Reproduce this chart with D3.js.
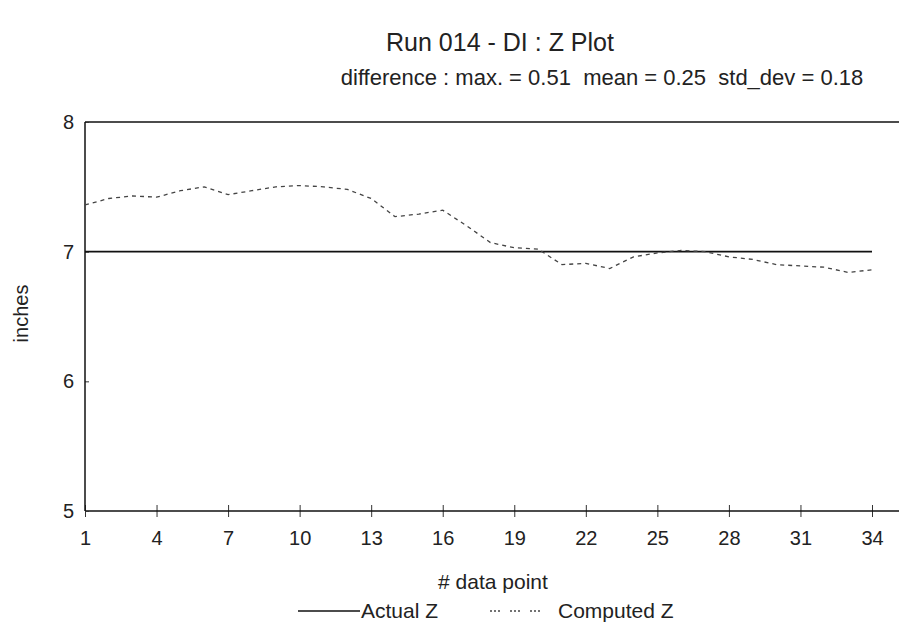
<!DOCTYPE html>
<html>
<head>
<meta charset="utf-8">
<script src="https://cdn.jsdelivr.net/npm/d3@7"></script>
<style>
  body { margin: 0; background: #fff; }
  text { font-family: 'Liberation Sans', Arial, sans-serif; fill: #222; }
</style>
</head>
<body>
<div id="chart-area"></div>
<script>
const points = d3.range(1, 35)
const actualZ = points.map(() => 7.0)
const computedZ = [7.36, 7.41, 7.43, 7.42, 7.47, 7.50, 7.44, 7.47, 7.50, 7.51,
  7.50, 7.48, 7.41, 7.27, 7.29, 7.32, 7.20, 7.07, 7.03, 7.02,
  6.90, 6.91, 6.87, 6.96, 6.99, 7.01, 7.00, 6.96, 6.94, 6.90,
  6.89, 6.88, 6.84, 6.86]
const xTicks = [1, 4, 7, 10, 13, 16, 19, 22, 25, 28, 31, 34]
const yTicks = [5, 6, 7, 8]

const margin = {top: 122, right: 0, bottom: 117, left: 85}
const width = 899 - margin.left - margin.right
const height = 628 - margin.top - margin.bottom
const font = "'Liberation Sans', Arial, sans-serif"

const svg = d3.select('#chart-area')
  .append('svg')
    .attr('width', 899)
    .attr('height', 628)

const g = svg.append('g')
  .attr('transform', `translate(${margin.left},${margin.top})`)

const x = d3.scaleLinear()
  .domain([1, 34])
  .range([0, 787])

const y = d3.scaleLinear()
  .domain([5, 8])
  .range([height, 0])

// titles
svg.append('text')
  .attr('x', 500)
  .attr('y', 51)
  .attr('font-size', '25px')
  .attr('text-anchor', 'middle')
  .text('Run 014 - DI : Z Plot')

svg.append('text')
  .attr('x', 602)
  .attr('y', 85)
  .attr('font-size', '22px')
  .attr('text-anchor', 'middle')
  .style('white-space', 'pre')
  .text('difference : max. = 0.51  mean = 0.25  std_dev = 0.18')

// top edge of the plot area
g.append('line')
  .attr('x1', 0).attr('x2', width)
  .attr('y1', 0).attr('y2', 0)
  .attr('stroke', '#111').attr('stroke-width', 1.5)

const xAxisGroup = g.append('g')
  .attr('transform', `translate(0,${height})`)
  .call(d3.axisBottom(x).tickValues(xTicks).tickSize(6).tickPadding(14))
xAxisGroup.select('.domain').remove()
xAxisGroup.append('line')
  .attr('x1', 0).attr('x2', width)
  .attr('stroke', '#111').attr('stroke-width', 1.5)
xAxisGroup.selectAll('.tick line').attr('y1', -6).attr('stroke', '#333')
xAxisGroup.selectAll('.tick text')
  .attr('font-size', '20px')
  .attr('fill', '#222')
  .attr('font-family', font)

const yAxisGroup = g.append('g')
  .call(d3.axisLeft(y).tickValues(yTicks).tickFormat(d3.format('d')).tickSize(5).tickPadding(6))
yAxisGroup.select('.domain').remove()
yAxisGroup.append('line')
  .attr('y1', 0).attr('y2', height)
  .attr('stroke', '#111').attr('stroke-width', 1.5)
yAxisGroup.selectAll('.tick line').attr('x2', 4).attr('stroke', '#333')
yAxisGroup.selectAll('.tick text')
  .attr('font-size', '20px')
  .attr('fill', '#222')
  .attr('font-family', font)

// axis labels
g.append('text')
  .attr('x', 408)
  .attr('y', height + 78)
  .attr('font-size', '21px')
  .attr('text-anchor', 'middle')
  .text('# data point')

g.append('text')
  .attr('x', -(height / 2) + 3)
  .attr('y', -57)
  .attr('font-size', '20px')
  .attr('text-anchor', 'middle')
  .attr('transform', 'rotate(-90)')
  .text('inches')

// series
const line = d3.line()
  .x((d, i) => x(points[i]))
  .y(d => y(d))

g.append('path')
  .datum(actualZ)
  .attr('fill', 'none')
  .attr('stroke', '#111')
  .attr('stroke-width', 1.6)
  .attr('d', line)

g.append('path')
  .datum(computedZ)
  .attr('fill', 'none')
  .attr('stroke', '#444')
  .attr('stroke-width', 1.3)
  .attr('stroke-dasharray', '4,4')
  .attr('d', line)

// legend
const legend = svg.append('g')
  .attr('transform', 'translate(0,611)')

legend.append('line')
  .attr('x1', 298).attr('x2', 360)
  .attr('stroke', '#111').attr('stroke-width', 1.5)
legend.append('text')
  .attr('x', 361).attr('y', 7)
  .attr('font-size', '21px')
  .text('Actual Z')

legend.append('line')
  .attr('x1', 490).attr('x2', 548)
  .attr('stroke', '#444').attr('stroke-width', 1.3)
  .attr('stroke-dasharray', '2,2,2,2,2,10')
legend.append('text')
  .attr('x', 558).attr('y', 7)
  .attr('font-size', '21px')
  .text('Computed Z')
</script>
</body>
</html>
